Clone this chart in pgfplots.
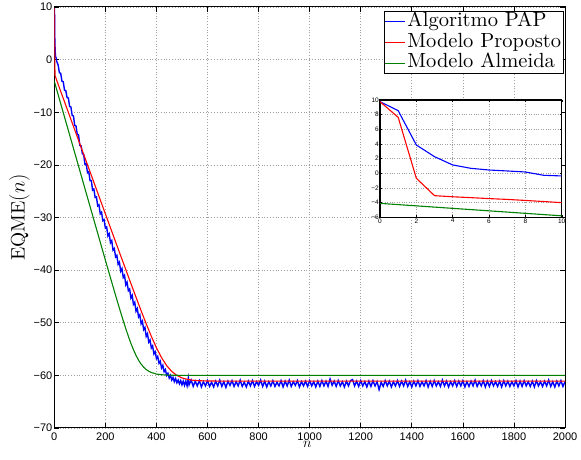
\documentclass[border=0pt]{standalone}
\usepackage{fontspec}
\usepackage{pgfplots}
\pgfplotsset{compat=1.18}
\newfontfamily\ticksf{Liberation Sans}
\newfontfamily\lmten{lmroman10-regular.otf}
\definecolor{mblue}{rgb}{0,0,1}
\definecolor{mred}{rgb}{1,0,0}
\definecolor{mgreen}{rgb}{0,0.5,0}
\begin{document}
\begin{tikzpicture}
\begin{axis}[
  scale only axis, width=510.7pt, height=421pt,
  at={(0pt,0pt)}, anchor=south west,
  xmin=0, xmax=2000, ymin=-70, ymax=10,
  xtick={0,200,...,2000},
  xticklabels={0,200,400,600,800,1000,1200,1400,1600,1800,2000},
  ytick={-70,-60,...,10},
  yticklabels={−70,−60,−50,−40,−30,−20,−10,0,10},
  tick align=inside, major tick length=5pt,
  xtick pos=both, ytick pos=both,
  grid=major,
  grid style={dash pattern=on 0.8pt off 2pt, gray!75, line width=0.6pt},
  axis line style={black, line width=1pt},
  every tick/.style={black, line width=0.6pt},
  tick label style={font=\ticksf\fontsize{11}{12}\selectfont},
  xticklabel style={inner sep=0.5pt, yshift=-4pt},
  yticklabel style={xshift=1.5pt},
  every axis x label/.style={at={(axis description cs:0.4954,-0.0475)}, anchor=base, inner sep=0pt},
  every axis y label/.style={at={(axis description cs:-0.0685,0.5)}, rotate=90, anchor=center},
  xlabel={$n$},
  xlabel style={font=\fontsize{14}{16}\selectfont},
  ylabel={EQME$(n)$},
  ylabel style={font=\lmten\fontsize{19.5}{22}\selectfont},
  legend image code/.code={\draw[#1, line width=1pt] (0pt,0pt) -- (20pt,0pt);},
  legend cell align=left,
  legend style={at={(axis description cs:1,1)}, anchor=north east, xshift=-1pt, yshift=-4pt,
    draw=black, line width=0.8pt, fill=white, inner xsep=1pt, inner ysep=0pt, row sep=0pt,
    font=\lmten\fontsize{20.5}{22}\selectfont,
    nodes={inner xsep=1.5pt, inner ysep=1.2pt, text height=13.8pt, text depth=4.5pt}},
]
\addplot[mblue, line width=1.4pt] coordinates {
(0,9.77) (1,8.55) (2,3.86) (3,2.27) (4,1.14) (5,0.68) (6,0.45) (7,0.32) (8,0.18) (9,-0.27) (10,-0.4)
(15,-1.0) (20,-2.5) (25,-2.6) (30,-4.1) (35,-4.2) (40,-5.8) (45,-5.9) (50,-7.2) (55,-7.3)
(60,-8.9) (65,-9.0) (70,-10.6) (75,-10.7) (80,-12.5) (85,-12.6) (90,-14.2) (95,-14.3) (100,-16.3) (105,-16.4)
(110,-17.9) (115,-18.0) (120,-19.9) (125,-19.8) (130,-21.5) (135,-21.3) (140,-23.0) (145,-23.0) (150,-24.8) (155,-24.6)
(160,-26.2) (165,-26.1) (170,-27.8) (175,-27.6) (180,-29.3) (185,-29.0) (190,-30.6) (195,-30.4) (200,-32.0) (205,-31.8)
(210,-33.5) (215,-33.1) (220,-34.8) (225,-34.4) (230,-36.2) (235,-35.9) (240,-37.5) (245,-37.2) (250,-38.9) (255,-38.5)
(260,-40.2) (265,-39.7) (270,-41.4) (275,-41.0) (280,-42.8) (285,-42.3) (290,-43.9) (295,-43.6) (300,-45.3) (305,-44.8)
(310,-46.5) (315,-46.1) (320,-47.8) (325,-47.3) (330,-48.9) (335,-48.5) (340,-50.2) (345,-49.7) (350,-51.3) (355,-50.9)
(360,-52.6) (365,-52.1) (370,-53.7) (375,-53.3) (380,-54.8) (385,-54.4) (390,-55.9) (395,-55.5) (400,-56.8) (405,-56.4)
(410,-57.7) (415,-57.3) (420,-58.6) (425,-58.1) (430,-59.3) (435,-58.9) (440,-60.0) (445,-59.6) (450,-60.5) (455,-60.0)
(460,-60.9) (465,-60.4) (470,-61.2) (475,-60.6) (480,-61.4) (485,-60.9) (490,-61.6) (495,-61.0) (500,-61.8) (505,-61.1)
(510,-61.9) (515,-61.1) (520,-62.0) (525,-60.5)
(528,-61.8) (536,-60.9) (544,-62.1) (552,-61.1) (560,-62.0) (568,-61.0) (576,-62.2) (584,-61.2) (592,-62.0) (600,-61.0)
(608,-62.1) (616,-61.3) (624,-62.2) (632,-61.1) (640,-62.0) (648,-60.9) (656,-62.1) (664,-61.2) (672,-62.3) (680,-61.1)
(688,-61.9) (696,-61.0) (704,-62.1) (712,-61.2) (720,-62.0) (728,-60.9) (736,-62.1) (744,-61.3) (752,-62.2) (760,-61.1)
(768,-62.0) (776,-61.0) (784,-62.1) (792,-61.2) (800,-61.9) (808,-60.9) (816,-62.1) (824,-61.1) (832,-62.2) (840,-61.2)
(848,-62.0) (856,-61.0) (864,-62.1) (872,-61.3) (880,-62.0) (888,-61.0) (896,-62.2) (904,-61.1) (912,-62.0) (920,-60.9)
(928,-62.1) (936,-61.2) (944,-61.9) (952,-61.0) (960,-62.2) (968,-61.2) (976,-62.0) (984,-61.1) (992,-62.1) (1000,-61.0)
(1008,-62.0) (1016,-61.2) (1024,-62.2) (1032,-61.1) (1040,-62.1) (1048,-61.0) (1056,-62.0) (1064,-61.1) (1072,-62.1) (1080,-60.7)
(1088,-61.9) (1096,-61.1) (1104,-62.1) (1112,-61.0) (1120,-62.0) (1128,-61.2) (1136,-62.2) (1144,-61.1) (1152,-62.0) (1160,-61.0)
(1168,-60.8) (1176,-62.0) (1184,-61.1) (1192,-62.1) (1200,-61.0) (1208,-62.0) (1216,-61.2) (1224,-62.2) (1232,-61.1) (1240,-62.1)
(1248,-61.0) (1256,-62.0) (1264,-61.2) (1272,-62.7) (1280,-61.3) (1288,-62.1) (1296,-61.0) (1304,-62.0) (1312,-61.1) (1320,-62.2)
(1328,-61.2) (1336,-62.0) (1344,-61.0) (1352,-62.1) (1360,-61.1) (1368,-62.0) (1376,-60.9) (1384,-62.1) (1392,-61.2) (1400,-62.2)
(1408,-61.1) (1416,-62.0) (1424,-61.0) (1432,-62.1) (1440,-61.2) (1448,-62.0) (1456,-61.0) (1464,-62.2) (1472,-61.1) (1480,-62.1)
(1488,-61.0) (1496,-62.0) (1504,-61.2) (1512,-62.1) (1520,-60.9) (1528,-62.0) (1536,-61.1) (1544,-62.2) (1552,-61.2) (1560,-62.0)
(1568,-61.0) (1576,-62.1) (1584,-61.1) (1592,-62.0) (1600,-61.0) (1608,-62.2) (1616,-61.2) (1624,-62.1) (1632,-61.1) (1640,-62.0)
(1648,-60.9) (1656,-62.1) (1664,-61.2) (1672,-62.0) (1680,-61.0) (1688,-62.2) (1696,-61.1) (1704,-62.1) (1712,-61.0) (1720,-62.0)
(1728,-61.2) (1736,-62.1) (1744,-61.1) (1752,-62.2) (1760,-61.0) (1768,-62.0) (1776,-61.1) (1784,-62.1) (1792,-61.2) (1800,-62.0)
(1808,-61.0) (1816,-62.2) (1824,-61.1) (1832,-62.1) (1840,-61.0) (1848,-62.0) (1856,-61.2) (1864,-62.1) (1872,-61.1) (1880,-62.2)
(1888,-61.0) (1896,-62.0) (1904,-61.2) (1912,-62.1) (1920,-61.1) (1928,-62.0) (1936,-60.9) (1944,-62.1) (1952,-61.2) (1960,-62.2)
(1968,-61.1) (1976,-62.0) (1984,-61.0) (1992,-62.1) (2000,-61.2)
};
\addlegendentry{Algoritmo PAP}
\addplot[mred, line width=1.1pt] coordinates {
(0,9.77) (1,7.64) (2,-0.68) (3,-3.05) (4,-3.2) (5,-3.32) (6,-3.45) (7,-3.56) (8,-3.7) (9,-3.85) (10,-4.0)
(20,-5.36) (40,-8.02) (60,-10.68) (80,-13.34) (100,-16.0) (150,-22.65) (200,-29.3) (250,-35.95)
(280,-39.9) (300,-42.54) (320,-45.14) (340,-47.72) (360,-50.21) (380,-52.58) (400,-54.75) (420,-56.64)
(440,-58.15) (460,-59.26) (480,-60.01) (500,-60.48) (520,-60.75) (540,-60.91) (560,-61.0) (600,-61.07)
(700,-61.1) (2000,-61.1)
};
\addlegendentry{Modelo Proposto}
\addplot[mgreen, line width=1.1pt] coordinates {
(0,-4.1) (10,-5.8) (50,-12.6) (100,-21.1) (150,-29.6) (200,-38.1) (220,-41.46) (240,-44.8)
(260,-48.05) (280,-51.13) (290,-52.57) (300,-53.92) (310,-55.13) (320,-56.2) (330,-57.12) (340,-57.86)
(350,-58.45) (360,-58.89) (370,-59.22) (380,-59.45) (400,-59.75) (420,-59.88) (450,-59.96) (500,-60.0) (2000,-60.0)
};
\addlegendentry{Modelo Almeida}
\end{axis}
\begin{axis}[
  scale only axis, width=181.7pt, height=117.3pt,
  at={(325.7pt,210.7pt)}, anchor=south west,
  xmin=0, xmax=10, ymin=-6, ymax=10,
  xtick={0,2,...,10}, xticklabels={0,2,4,6,8,10},
  ytick={-6,-4,...,10}, yticklabels={−6,−4,−2,0,2,4,6,8,10},
  tick align=inside, major tick length=2pt,
  xtick pos=both, ytick pos=both,
  grid=major,
  grid style={dash pattern=on 0.6pt off 1.8pt, gray!75, line width=0.5pt},
  axis background/.style={fill=white},
  axis line style={black, line width=1.5pt},
  every tick/.style={black, line width=0.4pt},
  tick label style={font=\ticksf\fontsize{6.5}{7.5}\selectfont, inner sep=1pt},
]
\addplot[mblue, line width=1.1pt] coordinates {
(0,9.77) (1,8.55) (2,3.86) (3,2.27) (4,1.14) (5,0.68) (6,0.45) (7,0.32) (8,0.18) (9,-0.27) (10,-0.36)
};
\addplot[mred, line width=1.1pt] coordinates {
(0,9.77) (1,7.64) (2,-0.68) (3,-3.05) (4,-3.2) (5,-3.32) (6,-3.45) (7,-3.56) (8,-3.7) (9,-3.85) (10,-4.0)
};
\addplot[mgreen, line width=1.1pt] coordinates {
(0,-4.1) (1,-4.27) (2,-4.44) (3,-4.61) (4,-4.78) (5,-4.95) (6,-5.12) (7,-5.29) (8,-5.46) (9,-5.63) (10,-5.8)
};
\end{axis}
\pgfresetboundingbox
\path[use as bounding box] (-54.3pt,-32pt) rectangle (526.7pt,428pt);
\end{tikzpicture}
\end{document}
